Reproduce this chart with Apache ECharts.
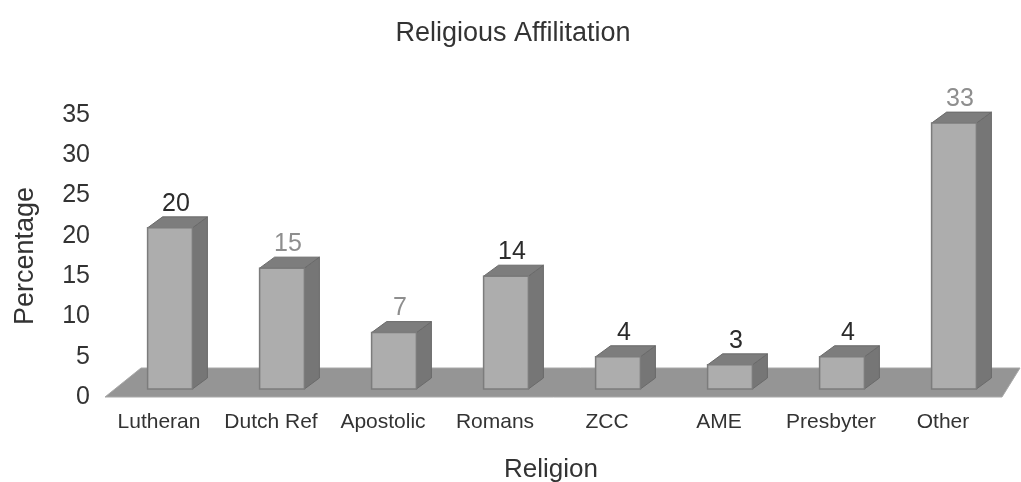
<!DOCTYPE html>
<html>
<head>
<meta charset="utf-8">
<style>html,body{margin:0;padding:0;background:#fff}#chart{width:1021px;height:482px}</style>
<script src="https://cdn.jsdelivr.net/npm/echarts@6/dist/echarts.min.js"></script>
</head>
<body>
<div id="chart"></div>
<script>
const categories = ['Lutheran', 'Dutch Ref', 'Apostolic', 'Romans', 'ZCC', 'AME', 'Presbyter', 'Other'];
const percentages = [20, 15, 7, 14, 4, 3, 4, 33];
const yTicks = { min: 0, max: 35, interval: 5 };

// Oblique projection of the bars: the front face sits back from the axis plane.
const SHIFT_X = 11, SHIFT_Y = 8, DEPTH_X = 15, DEPTH_Y = 11, BAR_RATIO = 0.4;
const FONT = '"Liberation Sans", Arial, sans-serif';
const paleLabels = ['Dutch Ref', 'Apostolic', 'Other'];

function renderFloor(params) {
  const r = params.coordSys;
  const y0 = r.y + r.height;
  return {
    type: 'polygon',
    shape: { points: [[r.x + 2, y0], [r.x + 38, y0 - 29], [r.x + r.width + 21, y0 - 29], [r.x + r.width + 3, y0]] },
    style: { fill: '#959595', stroke: '#a8a8a8', lineWidth: 1 }
  };
}

function renderBar(params, api) {
  const i = api.value(0);
  const top = api.coord([i, api.value(1)]);
  const base = api.coord([i, 0]);
  const w = api.size([1, 0])[0] * BAR_RATIO;
  const xl = top[0] + SHIFT_X - w / 2, xr = xl + w;
  const yt = top[1] - SHIFT_Y, yb = base[1] - SHIFT_Y;
  return {
    type: 'group',
    children: [
      { type: 'polygon',
        shape: { points: [[xr, yt], [xr + DEPTH_X, yt - DEPTH_Y], [xr + DEPTH_X, yb - DEPTH_Y], [xr, yb]] },
        style: { fill: '#767676', stroke: '#6a6a6a', lineWidth: 1 } },
      { type: 'polygon',
        shape: { points: [[xl, yt], [xl + DEPTH_X, yt - DEPTH_Y], [xr + DEPTH_X, yt - DEPTH_Y], [xr, yt]] },
        style: { fill: '#7d7d7d', stroke: '#6a6a6a', lineWidth: 1 } },
      { type: 'rect',
        shape: { x: xl, y: yt, width: w, height: yb - yt },
        style: { fill: '#adadad', stroke: '#7c7c7c', lineWidth: 1.5 } },
      { type: 'text',
        style: {
          x: top[0] + SHIFT_X + 6, y: yt - DEPTH_Y - 13,
          text: String(api.value(1)),
          align: 'center', verticalAlign: 'middle',
          font: '25px ' + FONT,
          fill: paleLabels.includes(categories[i]) ? '#8e8e8e' : '#2b2b2b'
        } }
    ]
  };
}

const chart = echarts.init(document.getElementById('chart'), null, { renderer: 'canvas' });
chart.setOption({
  animation: false,
  backgroundColor: '#ffffff',
  title: {
    text: 'Religious Affilitation', left: 508, top: 15, textAlign: 'center',
    textStyle: { fontFamily: FONT, fontSize: 27, fontWeight: 'normal', color: '#333' }
  },
  grid: { left: 103, right: 22, top: 115, bottom: 85, outerBoundsMode: 'none' },
  xAxis: {
    type: 'category', data: categories,
    axisLine: { show: false }, axisTick: { show: false },
    axisLabel: { fontFamily: FONT, fontSize: 21, color: '#333', margin: 15, interval: 0 },
    name: 'Religion', nameLocation: 'middle', nameGap: 60,
    nameTextStyle: { fontFamily: FONT, fontSize: 26, color: '#333' }
  },
  yAxis: {
    type: 'value', min: yTicks.min, max: yTicks.max, interval: yTicks.interval,
    axisLine: { show: false }, axisTick: { show: false }, splitLine: { show: false },
    axisLabel: { fontFamily: FONT, fontSize: 25, color: '#333', margin: 13 },
    name: 'Percentage', nameLocation: 'middle', nameRotate: 90, nameGap: 64,
    nameTextStyle: { fontFamily: FONT, fontSize: 27, color: '#333' }
  },
  series: [
    { type: 'custom', coordinateSystem: 'cartesian2d', clip: false, silent: true, z: 1,
      renderItem: renderFloor, data: [[0, 0]] },
    { type: 'custom', coordinateSystem: 'cartesian2d', clip: false, z: 2,
      renderItem: renderBar, encode: { x: 0, y: 1 },
      data: percentages.map((v, i) => [i, v]) }
  ]
});
</script>
</body>
</html>
